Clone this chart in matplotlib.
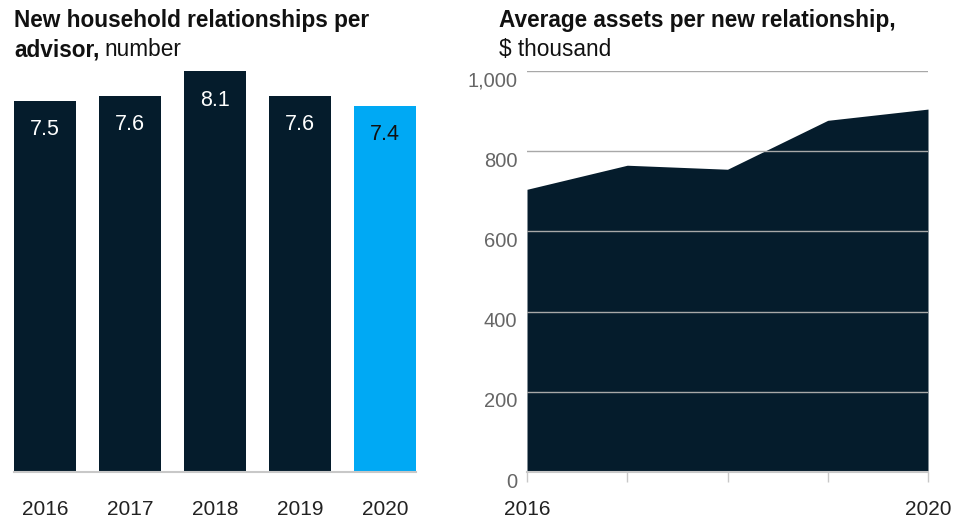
import matplotlib.pyplot as plt
import matplotlib.transforms as mtransforms

plt.rcParams['font.family'] = ['Liberation Sans', 'DejaVu Sans']

NAVY = '#051c2c'
BLUE = '#00a9f4'
GRID = '#a8a8a8'

years = [2016, 2017, 2018, 2019, 2020]
relationships = [7.5, 7.6, 8.1, 7.6, 7.4]
avg_assets = [705, 765, 755, 877, 905]
asset_ticks = [0, 200, 400, 600, 800, 1000]
asset_tick_labels = ['0', '200', '400', '600', '800', '1,000']

W, H = 961, 520
fig = plt.figure(figsize=(W / 100, H / 100), dpi=100)

def px_axes(x0, y_top, x1, y_bot):
    return fig.add_axes([x0 / W, 1 - y_bot / H, (x1 - x0) / W, (y_bot - y_top) / H])

# --- left: bars ---
ax1 = px_axes(14, 71, 416, 472)
bw = 62 / 85
colors = [NAVY] * 4 + [BLUE]
xs = list(range(len(years)))
ax1.bar(xs, relationships, width=bw, color=colors, zorder=2)
ax1.set_xlim(-bw / 2, len(years) - 1 + bw / 2)
ax1.set_ylim(0, 8.1)
for x, v, c in zip(xs, relationships, colors):
    ax1.annotate(f'{v}', (x, v), xytext=(0, -29), textcoords='offset pixels',
                 ha='center', va='center', fontsize=15.5,
                 color='white' if c == NAVY else '#111111')
ax1.set_xticks(xs)
ax1.set_xticklabels([str(y) for y in years], fontsize=15, color='#222222')
ax1.tick_params(axis='x', length=0, pad=20)
ax1.set_yticks([])
for s in ['top', 'left', 'right']:
    ax1.spines[s].set_visible(False)
ax1.spines['bottom'].set_color('#c8c8c8')
ax1.spines['bottom'].set_linewidth(1.5)
ax1.spines['bottom'].set_zorder(3)

fig.text(14 / W, 1 - 21 / H, 'New household relationships per', fontsize=16.3,
         fontweight='bold', va='center', color='#111111')
t = fig.text(14 / W, 1 - 50 / H, 'advisor,', fontsize=16.3, fontweight='bold',
             va='center', color='#111111')
fig.canvas.draw()
bb = t.get_window_extent()
fig.text(bb.x1 / W + 5 / W, 1 - 50 / H, 'number', fontsize=16.3, va='center',
         color='#111111')

# --- right: area ---
ax2 = px_axes(527, 71, 928, 472)
ax2.fill_between(years, avg_assets, 0, color=NAVY, linewidth=0, zorder=1)
ax2.set_xlim(2016, 2020)
ax2.set_ylim(0, 1000)
ax2.set_yticks(asset_ticks)
ax2.set_yticklabels(asset_tick_labels, fontsize=14.5, color='#666666')
ax2.tick_params(axis='y', length=0, pad=7)
offset = mtransforms.ScaledTranslation(0, -8 / 100, fig.dpi_scale_trans)
for lbl in ax2.get_yticklabels():
    lbl.set_transform(lbl.get_transform() + offset)
for v in asset_ticks[1:]:
    ax2.axhline(v, color=GRID, linewidth=1, zorder=3)
ax2.set_xticks(years)
ax2.set_xticklabels(['2016', '', '', '', '2020'], fontsize=15, color='#222222')
ax2.tick_params(axis='x', length=7.2, width=1, color='#c8c8c8', pad=13)
for s in ['top', 'left', 'right']:
    ax2.spines[s].set_visible(False)
ax2.spines['bottom'].set_color('#c8c8c8')
ax2.spines['bottom'].set_linewidth(1.5)
ax2.spines['bottom'].set_zorder(3)

fig.text(499 / W, 1 - 21 / H, 'Average assets per new relationship,', fontsize=16.3,
         fontweight='bold', va='center', color='#111111')
fig.text(499 / W, 1 - 50 / H, '$ thousand', fontsize=16.3, va='center',
         color='#111111')

fig.savefig('out.png', dpi=100)
